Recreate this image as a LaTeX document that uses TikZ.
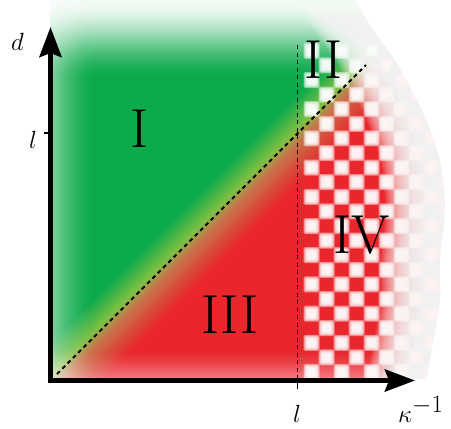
\documentclass[tikz,border=0pt]{standalone}
\usetikzlibrary{arrows.meta}
\definecolor{cG}{RGB}{11,170,74}
\definecolor{cY}{RGB}{125,192,68}
\definecolor{cB}{RGB}{200,118,76}
\definecolor{cR}{RGB}{233,38,44}
\tikzset{
 axisline/.style={line width=5pt, -{Stealth[length=30pt,width=22pt,inset=4pt]}},
 dashline/.style={line width=1.8pt, dash pattern=on 4pt off 3.5pt},
 numeral/.style={font=\fontsize{55}{55}\selectfont, anchor=base, inner sep=0pt},
 axlabel/.style={inner sep=0pt, anchor=base},
 tickline/.style={line width=1.6pt},
}
\begin{document}
\begin{tikzpicture}[x=1pt,y=-1pt]
\useasboundingbox (0,0) rectangle (451,429);
\begin{scope}
\clip (50,0) rectangle (451,378.5);
\fill[cG] (50,0) rectangle (451,379);
\fill[cR] (581,-100) -- (-19,500) -- (1000,500) -- (1000,-100) -- cycle;
\foreach \t in {-40,-38,...,50}{
  \ifnum\t<-6
    \pgfmathtruncatemacro\p{(\t+40)/34*100}\colorlet{cc}{cY!\p!cG}
  \else\ifnum\t<8
    \pgfmathtruncatemacro\p{(\t+6)/14*100}\colorlet{cc}{cB!\p!cY}
  \else
    \pgfmathtruncatemacro\p{(\t-8)/42*100}\colorlet{cc}{cR!\p!cB}
  \fi\fi
  \pgfmathsetmacro\c{431+\t}
  \fill[cc] (\c+100,-100) -- (\c-500,500) -- (\c-497.5,500) -- (\c+102.5,-100) -- cycle;
}
\foreach \j in {0,...,22}{
  \foreach \i in {0,...,9}{
    \pgfmathtruncatemacro\pp{mod(\i+\j,2)}
    \ifnum\pp=0
      \pgfmathsetmacro\xc{311.5+15*\i}
      \pgfmathsetmacro\yc{372-14.6*\j}
      \foreach \h in {8,7,6,5,4}{\fill[white, opacity=.45, rounded corners=1.5pt] (\xc-\h,\yc-\h) rectangle (\xc+\h,\yc+\h);}
    \fi
  }
}
% left soft edge
\foreach \xx in {50,...,94}{
  \pgfmathsetmacro\s{(\xx-50)/45}
  \pgfmathsetmacro\o{0.5*(1-\s)^1.6}
  \fill[white, opacity=\o] (\xx,0) rectangle (\xx+1,379);
}
% top soft edge
\foreach \yy in {0,...,79}{
  \pgfmathsetmacro\s{\yy/80}
  \pgfmathsetmacro\o{0.95*(1-3*\s*\s+2*\s*\s*\s)}
  \fill[white, opacity=\o] (50,\yy) rectangle (451,\yy+1);
}
% bottom soft edge
\foreach \yy in {350,...,378}{
  \pgfmathsetmacro\s{(\yy-350)/29}
  \pgfmathsetmacro\o{0.42*\s^1.3}
  \fill[white, opacity=\o] (50,\yy) rectangle (451,\yy+1);
}
% right soft edge
\foreach \k in {0,...,59}{
  \fill[white, opacity=.07, xshift=\k-60] plot[smooth] coordinates {(350,-10) (370,25) (398,65) (422,110) (440,160) (445,210) (440,260) (440,300) (432,350) (425,390)} -- (560,390) -- (560,-10) -- cycle;
}
\fill[white] plot[smooth] coordinates {(350,-10) (370,25) (398,65) (422,110) (440,160) (445,210) (440,260) (440,300) (432,350) (425,390)} -- (560,390) -- (560,-10) -- cycle;
\end{scope}
\coordinate (D0) at (57,374);
\coordinate (D1) at (366,65);
\coordinate (V0) at (297.5,45);
\coordinate (V1) at (297.5,383);
\draw[dashline] (D0) -- (D1);
\draw[dashline] (V0) -- (V1);
\coordinate (O) at (50.5,383);
\coordinate (Ytip) at (50.5,27);
\coordinate (X0) at (48,380.5);
\coordinate (Xtip) at (415,380.5);
\draw[axisline] (O) -- (Ytip);
\draw[axisline] (X0) -- (Xtip);
\coordinate (YT0) at (44,133);
\coordinate (YT1) at (49,133);
\coordinate (XT0) at (297.5,383);
\coordinate (XT1) at (297.5,389);
\draw[tickline] (YT0) -- (YT1);
\draw[tickline] (XT0) -- (XT1);
\node[axlabel, font=\fontsize{34}{34}\selectfont] (dlab) at (17.5,50) {$d$};
\node[axlabel, font=\fontsize{30}{30}\selectfont] (ylab) at (33,148) {$l$};
\node[axlabel, font=\fontsize{40}{40}\selectfont] (xlab) at (297,422) {$l$};
\node[axlabel, anchor=base west, font=\fontsize{38}{38}\selectfont] (klab) at (398,422) {$\kappa^{-1}$};
\node[numeral] (n1) at (140,147) {I};
\node[numeral] (n2) at (323.5,78) {II};
\node[numeral] (n3) at (230,333) {III};
\node[numeral] (n4) at (361.5,253) {IV};
\end{tikzpicture}
\end{document}
